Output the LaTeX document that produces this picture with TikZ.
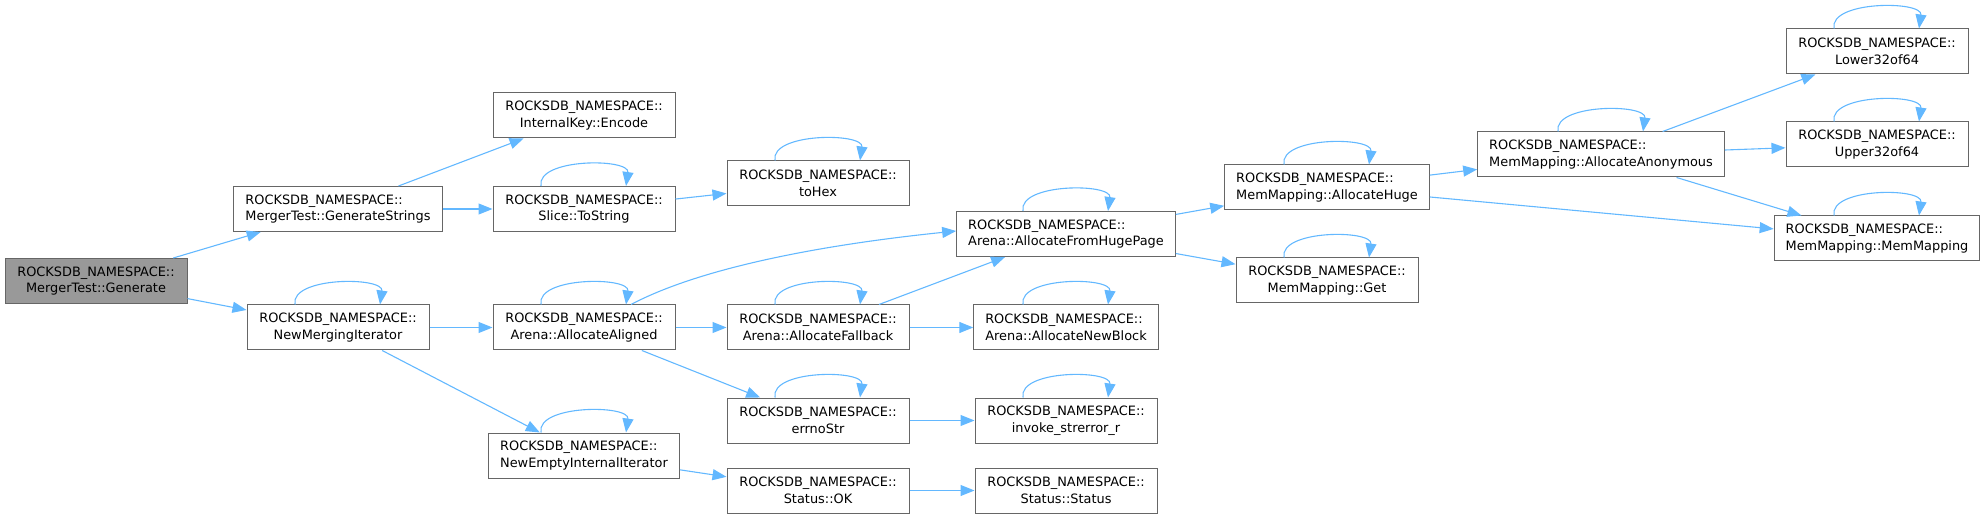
\documentclass[tikz,border=0pt]{standalone}
\usepackage{fontspec}
\setmainfont{DejaVu Sans}
\usetikzlibrary{arrows.meta}
\definecolor{edgec}{HTML}{63B8FF}
\definecolor{bordc}{HTML}{666666}
\definecolor{genfill}{HTML}{999999}
\tikzset{
  fn/.style={draw=bordc, fill=white, line width=1pt, inner xsep=11.5pt, inner ysep=0pt,
    minimum height=45pt, minimum width=182pt, align=center,
    font=\fontsize{12.9}{16.7}\selectfont},
  fnl/.style={fn, align=left},
  gen/.style={fn, fill=genfill},
  edge/.style={draw=edgec, line width=1.1pt, -{Triangle[length=14pt,width=11pt]}}
}
\newcommand\myloop[1]{\draw[edge] ([xshift=-43pt]#1.north) .. controls +(-5,-28) and +(4,-28) .. ([xshift=42pt]#1.north);}
\begin{document}
\begin{tikzpicture}[x=1pt,y=-1pt]
\useasboundingbox (0,0) rectangle (1986,518);
\node[gen] (gen) at (96,281) {ROCKSDB\_NAMESPACE::\\MergerTest::Generate};
\node[fnl] (gs) at (338,209) {ROCKSDB\_NAMESPACE::\\MergerTest::GenerateStrings};
\node[fn] (nmi) at (338,327.5) {ROCKSDB\_NAMESPACE::\\NewMergingIterator};
\node[fn] (ike) at (584,115.5) {ROCKSDB\_NAMESPACE::\\InternalKey::Encode};
\node[fn] (sts) at (584,209) {ROCKSDB\_NAMESPACE::\\Slice::ToString};
\node[fn] (hex) at (818,183.5) {ROCKSDB\_NAMESPACE::\\toHex};
\node[fn] (aa) at (584,327.5) {ROCKSDB\_NAMESPACE::\\Arena::AllocateAligned};
\node[fnl] (nei) at (584,455.5) {ROCKSDB\_NAMESPACE::\\NewEmptyInternalIterator};
\node[fnl] (fhp) at (1066,234) {ROCKSDB\_NAMESPACE::\\Arena::AllocateFromHugePage};
\node[fn] (af) at (818,327.5) {ROCKSDB\_NAMESPACE::\\Arena::AllocateFallback};
\node[fnl] (anb) at (1066,327.5) {ROCKSDB\_NAMESPACE::\\Arena::AllocateNewBlock};
\node[fn] (ens) at (818,420.5) {ROCKSDB\_NAMESPACE::\\errnoStr};
\node[fn] (isr) at (1066,420.5) {ROCKSDB\_NAMESPACE::\\invoke\_strerror\_r};
\node[fn] (ok) at (818,490.5) {ROCKSDB\_NAMESPACE::\\Status::OK};
\node[fn] (st) at (1066,490.5) {ROCKSDB\_NAMESPACE::\\Status::Status};
\node[fnl] (ah) at (1327,187.5) {ROCKSDB\_NAMESPACE::\\MemMapping::AllocateHuge};
\node[fn] (get) at (1327,280.5) {ROCKSDB\_NAMESPACE::\\MemMapping::Get};
\node[fnl] (aan) at (1601,154.5) {ROCKSDB\_NAMESPACE::\\MemMapping::AllocateAnonymous};
\node[fn] (low) at (1877,51.5) {ROCKSDB\_NAMESPACE::\\Lower32of64};
\node[fn] (up) at (1877,144.5) {ROCKSDB\_NAMESPACE::\\Upper32of64};
\node[fnl] (mm) at (1877,238.5) {ROCKSDB\_NAMESPACE::\\MemMapping::MemMapping};

\draw[edge] (gen) -- (gs);
\draw[edge] (gen) -- (nmi);
\draw[edge] (gs) -- (ike);
\draw[edge] (gs) -- (sts);
\draw[edge] (sts) -- (hex);
\draw[edge] (nmi) -- (aa);
\draw[edge] (nmi) -- (nei);
\draw[edge] ([xshift=47pt]aa.north) .. controls (700,268) and (820,245) .. ([yshift=3pt]fhp.west);
\draw[edge] (aa) -- (af);
\draw[edge] (aa) -- (ens);
\draw[edge] (nei) -- (ok);
\draw[edge] (af) -- (fhp);
\draw[edge] (af) -- (anb);
\draw[edge] (ens) -- (isr);
\draw[edge] (ok) -- (st);
\draw[edge] (fhp) -- (ah);
\draw[edge] (fhp) -- (get);
\draw[edge] (ah) -- (aan);
\draw[edge] (ah) -- (mm);
\draw[edge] (aan) -- (low);
\draw[edge] (aan) -- (up);
\draw[edge] (aan) -- (mm);

\myloop{sts}
\myloop{hex}
\myloop{nmi}
\myloop{aa}
\myloop{nei}
\myloop{af}
\myloop{anb}
\myloop{ens}
\myloop{isr}
\myloop{fhp}
\myloop{ah}
\myloop{get}
\myloop{aan}
\myloop{low}
\myloop{up}
\myloop{mm}
\end{tikzpicture}
\end{document}
